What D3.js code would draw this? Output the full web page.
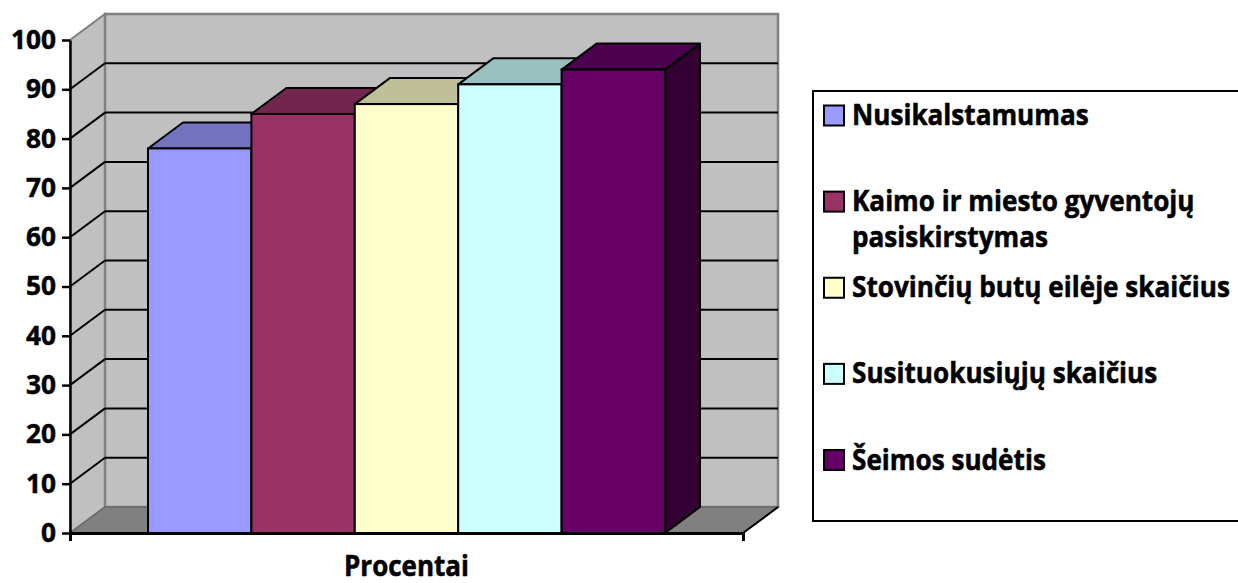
<!DOCTYPE html>
<html>
<head>
<meta charset="utf-8">
<script src="https://cdn.jsdelivr.net/npm/d3@7"></script>
<style>
  html, body { margin: 0; padding: 0; background: #fff; }
  svg { display: block; }
  text { font-family: "Open Sans", Lato, sans-serif; font-weight: bold; fill: #000; }
  .heavy { stroke: #000; stroke-width: 0.5px; paint-order: stroke; }
</style>
</head>
<body>
<svg id="chart" width="1238" height="583"></svg>
<script>
// Series shown as 3D columns in a single category
const category = "Procentai";
const seriesNames = [
  "Nusikalstamumas",
  "Kaimo ir miesto gyventojų pasiskirstymas",
  "Stovinčių butų eilėje skaičius",
  "Susituokusiųjų skaičius",
  "Šeimos sudėtis"
];
const seriesValues = [78, 85, 87, 91, 94];
const seriesColors = ["#9999ff", "#993366", "#ffffcc", "#ccffff", "#660066"];
const yTicks = [0, 10, 20, 30, 40, 50, 60, 70, 80, 90, 100];

const svg = d3.select("#chart");

// Front plane of the plot and the 3D depth offset
const plot = { left: 70, right: 743, top: 40, bottom: 533 };
const depth = { dx: 35, dy: -26 };

const y = d3.scaleLinear().domain([0, 100]).range([plot.bottom, plot.top]);
const xCat = d3.scaleBand().domain([category]).range([plot.left, plot.right]).paddingInner(0).paddingOuter(0);
const groupPad = 78;
const xSer = d3.scaleBand()
  .domain(seriesNames)
  .range([xCat(category) + groupPad, xCat(category) + xCat.bandwidth() - groupPad])
  .padding(0);

const shade = (c, k) => {
  const r = d3.rgb(c);
  return d3.rgb(r.r * k, r.g * k, r.b * k).formatHex();
};
const pts = a => a.map(p => p.join(",")).join(" ");

// Font size that gives a string the requested width
function fitSize(str, width) {
  const probe = svg.append("text").style("font-size", "20px").text(str);
  const w = probe.node().getComputedTextLength();
  probe.remove();
  return 20 * width / w;
}
const tickFont = fitSize("100", 45);
const labelFont = fitSize("Stovinčių butų eilėje skaičius", 378);
const titleFont = fitSize(category, 125);
const tall = 1.1; // vertical stretch for the label text
const stretch = (x, base) => `translate(${x},${base}) scale(1,${tall})`;

// Side wall
const g = svg.append("g");
g.append("polygon")
  .attr("points", pts([
    [plot.left, y(0)], [plot.left, y(100)],
    [plot.left + depth.dx, y(100) + depth.dy], [plot.left + depth.dx, y(0) + depth.dy]
  ]))
  .attr("fill", "#c0c0c0").attr("stroke", "#808080").attr("stroke-width", 2);

// Back wall
g.append("rect")
  .attr("x", plot.left + depth.dx)
  .attr("y", y(100) + depth.dy)
  .attr("width", plot.right - plot.left)
  .attr("height", y(0) - y(100))
  .attr("fill", "#c0c0c0").attr("stroke", "#808080").attr("stroke-width", 2.5);

// Floor
g.append("polygon")
  .attr("points", pts([
    [plot.left, y(0)], [plot.right, y(0)],
    [plot.right + depth.dx, y(0) + depth.dy], [plot.left + depth.dx, y(0) + depth.dy]
  ]))
  .attr("fill", "#808080").attr("stroke", "#6a6a6a").attr("stroke-width", 1.5);
g.append("line")
  .attr("x1", plot.right).attr("y1", y(0))
  .attr("x2", plot.right + depth.dx).attr("y2", y(0) + depth.dy)
  .attr("stroke", "#000").attr("stroke-width", 2);

// Gridlines on the side and back walls
const inner = yTicks.filter(t => t > 0 && t < 100);
g.selectAll("line.grid-back").data(inner).join("line")
  .attr("class", "grid-back")
  .attr("x1", plot.left + depth.dx).attr("x2", plot.right + depth.dx)
  .attr("y1", d => y(d) + depth.dy).attr("y2", d => y(d) + depth.dy)
  .attr("stroke", "#000").attr("stroke-width", 2);
g.selectAll("line.grid-side").data(inner).join("line")
  .attr("class", "grid-side")
  .attr("x1", plot.left).attr("x2", plot.left + depth.dx)
  .attr("y1", d => y(d)).attr("y2", d => y(d) + depth.dy)
  .attr("stroke", "#000").attr("stroke-width", 2);

// Columns, drawn left to right so each hides its neighbour's side face
const bars = seriesNames.map((name, i) => ({ name, value: seriesValues[i], color: seriesColors[i] }));
const barG = svg.append("g");
bars.forEach(b => {
  const x0 = xSer(b.name), x1 = x0 + xSer.bandwidth();
  const yt = y(b.value), yb = y(0);
  const cg = barG.append("g");
  cg.append("polygon")
    .attr("points", pts([[x1, yb], [x1, yt], [x1 + depth.dx, yt + depth.dy], [x1 + depth.dx, yb + depth.dy]]))
    .attr("fill", shade(b.color, 0.5)).attr("stroke", "#000").attr("stroke-width", 2).attr("stroke-linejoin", "round");
  cg.append("polygon")
    .attr("points", pts([[x0, yt], [x1, yt], [x1 + depth.dx, yt + depth.dy], [x0 + depth.dx, yt + depth.dy]]))
    .attr("fill", shade(b.color, 0.75)).attr("stroke", "#000").attr("stroke-width", 2).attr("stroke-linejoin", "round");
  cg.append("rect")
    .attr("x", x0).attr("y", yt).attr("width", x1 - x0).attr("height", yb - yt)
    .attr("fill", b.color).attr("stroke", "#000").attr("stroke-width", 2);
});

// Value axis
const yAxis = svg.append("g")
  .attr("transform", `translate(${plot.left},0)`)
  .call(d3.axisLeft(y).tickValues(yTicks).tickSize(8).tickSizeOuter(0).tickPadding(6));
yAxis.select(".domain").attr("stroke", "#000").attr("stroke-width", 2.5);
yAxis.selectAll(".tick line").attr("stroke", "#000").attr("stroke-width", 2.5);
yAxis.selectAll(".tick text")
  .attr("class", "heavy")
  .style("font-family", "'Open Sans', Lato, sans-serif")
  .style("font-weight", "bold")
  .style("font-size", tickFont + "px")
  .attr("fill", "#000");

// Category axis
const xAxis = svg.append("g")
  .attr("transform", `translate(0,${plot.bottom})`)
  .call(d3.axisBottom(xCat).tickValues([]).tickSizeOuter(8));
xAxis.select(".domain").attr("stroke", "#000").attr("stroke-width", 3);
svg.append("text")
  .attr("class", "heavy")
  .attr("transform", stretch(xCat(category) + xCat.bandwidth() / 2, 576))
  .attr("text-anchor", "middle")
  .style("font-size", titleFont + "px")
  .text(category);

// Legend
const legend = svg.append("g");
legend.append("rect")
  .attr("x", 813).attr("y", 91).attr("width", 460).attr("height", 430)
  .attr("fill", "#fff").attr("stroke", "#000").attr("stroke-width", 2);
const legendLines = [
  ["Nusikalstamumas"],
  ["Kaimo ir miesto gyventojų", "pasiskirstymas"],
  ["Stovinčių butų eilėje skaičius"],
  ["Susituokusiųjų skaičius"],
  ["Šeimos sudėtis"]
];
const legendY = d3.scalePoint().domain(seriesNames).range([115.5, 460]);
bars.forEach((b, i) => {
  const cy = legendY(b.name);
  legend.append("rect")
    .attr("x", 824).attr("y", cy - 10).attr("width", 20).attr("height", 20)
    .attr("fill", b.color).attr("stroke", "#000").attr("stroke-width", 2);
  legendLines[i].forEach((line, j) => {
    legend.append("text")
      .attr("class", "heavy")
      .attr("transform", stretch(852, cy + 9.5 + j * 36))
      .style("font-size", labelFont + "px")
      .text(line);
  });
});
</script>
</body>
</html>
